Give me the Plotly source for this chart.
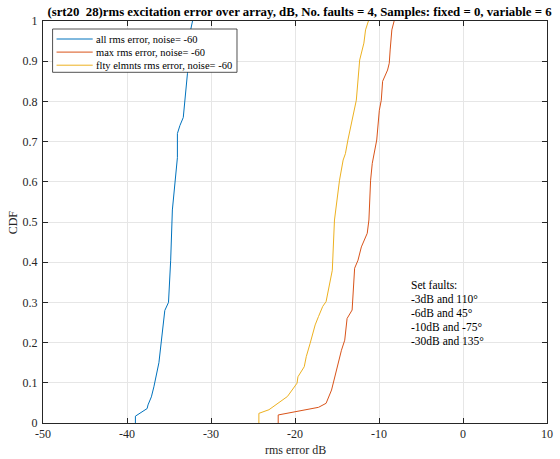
import plotly.graph_objects as go

# ---- data ----
blue_x = [-39.0, -39.0, -37.6, -37.5, -37.1, -36.8, -36.2, -35.9, -35.6, -35.5, -35.06,
          -34.8, -34.6, -34.15, -34.0, -34.0, -33.7, -33.3, -33.0, -32.8, -32.4, -32.2]
blue_y = [0.0, 0.017, 0.036, 0.045, 0.065, 0.09, 0.15, 0.20, 0.25, 0.28, 0.30,
          0.405, 0.53, 0.62, 0.66, 0.72, 0.74, 0.76, 0.82, 0.87, 0.98, 1.0]

red_x = [-22.0, -22.0, -17.2, -16.3, -15.65, -14.47, -14.08, -13.8, -13.2, -12.9, -12.5,
         -12.1, -11.4, -11.2, -11.0, -10.8, -10.27, -9.96, -9.73, -9.57, -8.98, -8.78,
         -8.67, -8.47, -8.2]
red_y = [0.0, 0.02, 0.039, 0.049, 0.082, 0.181, 0.206, 0.26, 0.281, 0.385, 0.405,
         0.438, 0.472, 0.505, 0.604, 0.646, 0.704, 0.778, 0.803, 0.85, 0.878, 0.895,
         0.928, 0.978, 1.0]

yel_x = [-24.3, -24.3, -23.1, -20.9, -19.76, -19.65, -18.9, -18.66, -18.2, -17.6, -17.2,
         -16.7, -16.3, -15.85, -15.56, -15.3, -14.7, -14.27, -14.0, -13.7, -13.2, -12.7,
         -12.3, -11.8, -11.6, -11.26]
yel_y = [0.0, 0.024, 0.033, 0.066, 0.099, 0.115, 0.14, 0.165, 0.198, 0.244, 0.265,
         0.29, 0.302, 0.356, 0.38, 0.505, 0.604, 0.654, 0.67, 0.704, 0.754, 0.803,
         0.903, 0.945, 0.978, 1.0]

series_names = ["all rms error, noise= -60", "max rms error, noise= -60",
                "flty elmnts rms error, noise= -60"]
colors = ["#0072BD", "#D95319", "#EDB120"]

x_ticks = [-50, -40, -30, -20, -10, 0, 10]
y_ticks = [0, 0.1, 0.2, 0.3, 0.4, 0.5, 0.6, 0.7, 0.8, 0.9, 1]
y_ticklabels = ["0", "0.1", "0.2", "0.3", "0.4", "0.5", "0.6", "0.7", "0.8", "0.9", "1"]

fault_lines = ["Set faults:", "-3dB and 110°", "-6dB and 45°", "-10dB and -75°", "-30dB and 135°"]

title_text = "(srt20\u00a0\u00a028)rms excitation error over array, dB, No. faults = 4, Samples: fixed = 0, variable = 6"
x_title = "rms error dB"
y_title = "CDF"

FONT = "Liberation Serif, Times New Roman, serif"
W, H = 560, 459
L, R, T, B = 43, 7, 21, 36
PW, PH = W - L - R, H - T - B


def px_x(px):
    return (px - L) / PW


def px_y(py):
    return (H - B - py) / PH


fig = go.Figure()
for xs, ys, name, c in [(blue_x, blue_y, series_names[0], colors[0]),
                        (red_x, red_y, series_names[1], colors[1]),
                        (yel_x, yel_y, series_names[2], colors[2])]:
    fig.add_trace(go.Scatter(x=xs, y=ys, mode="lines", name=name,
                             line=dict(color=c, width=1), showlegend=False,
                             hoverinfo="skip"))

axis_common = dict(showline=True, linecolor="#262626", linewidth=1, mirror="ticks",
                   ticks="inside", ticklen=5, tickcolor="#262626",
                   showgrid=True, gridcolor="#e6e6e6", gridwidth=1, zeroline=False,
                   tickfont=dict(family=FONT, size=12, color="#262626"))

fig.update_xaxes(range=[-50, 10], tickvals=x_ticks, ticktext=[str(v) for v in x_ticks],
                 **axis_common)
fig.update_yaxes(range=[0, 1], tickvals=y_ticks, ticktext=y_ticklabels,
                 ticklabelstandoff=2, **axis_common)

# axis titles
fig.add_annotation(text=x_title, xref="paper", yref="paper", x=0.5, y=px_y(450),
                   xanchor="center", yanchor="middle", showarrow=False,
                   font=dict(family=FONT, size=12, color="#262626"))
fig.add_annotation(text=y_title, xref="paper", yref="paper", x=px_x(13), y=0.5,
                   xanchor="center", yanchor="middle", showarrow=False, textangle=-90,
                   font=dict(family=FONT, size=12, color="#262626"))

# fault text
for i, t in enumerate(fault_lines):
    fig.add_annotation(text=t, xref="paper", yref="paper",
                       x=px_x(413), y=px_y(285 + i * 13.9),
                       xanchor="left", yanchor="middle", showarrow=False,
                       font=dict(family=FONT, size=11.5, color="#000000"))

# compact legend box (opaque, above the lines)
fig.add_shape(type="rect", xref="paper", yref="paper",
              x0=px_x(52.7), x1=px_x(239.3), y0=px_y(72.3), y1=px_y(29),
              fillcolor="white", line=dict(color="#262626", width=0.8), layer="above")
for i, (name, c) in enumerate(zip(series_names, colors)):
    yy = px_y(39 + i * 13.1)
    fig.add_shape(type="line", xref="paper", yref="paper",
                  x0=px_x(56.7), x1=px_x(93.3), y0=yy, y1=yy,
                  line=dict(color=c, width=1), layer="above")
    fig.add_annotation(text=name, xref="paper", yref="paper", x=px_x(95), y=yy,
                       xanchor="left", yanchor="middle", showarrow=False,
                       font=dict(family=FONT, size=10.5, color="#000000"))

fig.update_layout(
    width=W, height=H,
    margin=dict(l=L, r=R, t=T, b=B),
    paper_bgcolor="white", plot_bgcolor="white",
    title=dict(text=title_text, x=299.5 / W, xanchor="center",
               y=1 - 11.5 / H, yanchor="middle", yref="container",
               font=dict(family=FONT, size=12.8, color="#000000", weight="bold")),
    showlegend=False,
    hovermode=False,
)

fig.write_html("out.html", config={"displayModeBar": False, "staticPlot": True},
               post_script="document.body.style.margin='0';document.body.style.padding='0';")
